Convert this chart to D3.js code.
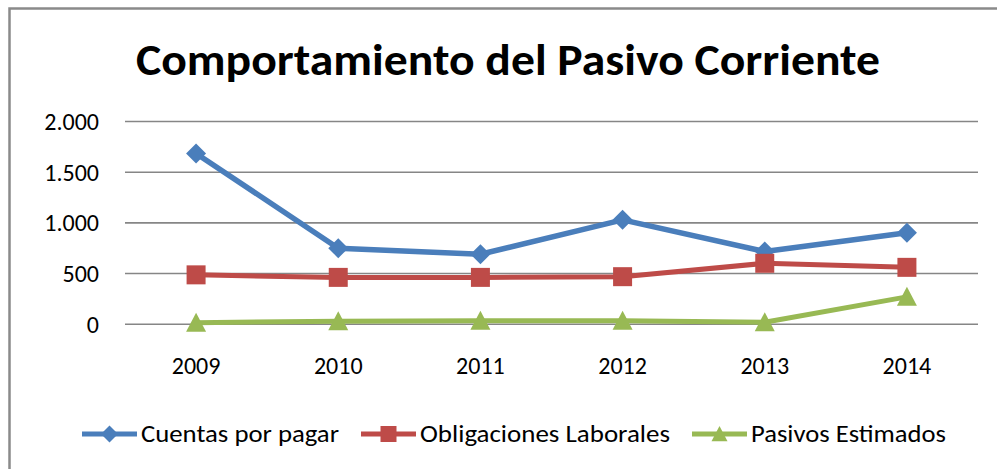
<!DOCTYPE html>
<html>
<head>
<meta charset="utf-8">
<script src="https://cdn.jsdelivr.net/npm/d3@7/dist/d3.min.js"></script>
<style>
  html, body { margin: 0; padding: 0; background: #fff; }
  svg { display: block; }
</style>
</head>
<body>
<svg id="chart" width="997" height="469"></svg>
<script>
const categories = ["2009", "2010", "2011", "2012", "2013", "2014"];
const cuentasPorPagar = [1680, 745, 685, 1025, 712, 897];
const obligacionesLaborales = [482, 457, 457, 464, 596, 556];
const pasivosEstimados = [10, 25, 30, 28, 15, 265];
const yTicks = [0, 500, 1000, 1500, 2000];
const seriesNames = ["Cuentas por pagar", "Obligaciones Laborales", "Pasivos Estimados"];
const seriesColors = ["#4A7EBB", "#BE4B48", "#98B954"];
const titleText = "Comportamiento del Pasivo Corriente";

const series = [
  { name: seriesNames[0], values: cuentasPorPagar, color: seriesColors[0], shape: "diamond" },
  { name: seriesNames[1], values: obligacionesLaborales, color: seriesColors[1], shape: "square" },
  { name: seriesNames[2], values: pasivosEstimados, color: seriesColors[2], shape: "triangle" }
];

const FONT = "Carlito, Lato, 'Open Sans', sans-serif";
const svg = d3.select("#chart");

// chart border
svg.append("rect")
  .attr("x", 9.5).attr("y", 8.5)
  .attr("width", 1000).attr("height", 470)
  .attr("fill", "#fff")
  .attr("stroke", "#8a8a8a").attr("stroke-width", 2.5);

// title
svg.append("text")
  .attr("x", 136).attr("y", 75)
  .attr("font-family", FONT).attr("font-weight", "bold")
  .attr("font-size", 45).attr("fill", "#000")
  .attr("textLength", 744).attr("lengthAdjust", "spacingAndGlyphs")
  .text(titleText);

const plotLeft = 125, plotRight = 978, plotTop = 121, plotBottom = 323.7;

const x = d3.scaleBand().domain(categories).range([plotLeft, plotRight]);
const y = d3.scaleLinear().domain([0, 2000]).range([plotBottom, plotTop]);

const loc = d3.formatLocale({ decimal: ",", thousands: ".", grouping: [3], currency: ["", ""] });
const fmt = loc.format(",");

// gridlines + y labels via axis
const yAxis = d3.axisLeft(y).tickValues(yTicks).tickFormat(fmt)
  .tickSize(-(plotRight - plotLeft)).tickPadding(26);
const gy = svg.append("g").attr("transform", `translate(${plotLeft},0)`).call(yAxis);
gy.select(".domain").remove();
gy.selectAll(".tick line").attr("stroke", "#868686").attr("stroke-width", 1.6);
gy.selectAll(".tick text")
  .attr("font-family", FONT).attr("font-size", 24).attr("fill", "#000")
  .attr("dy", "0.35em");

// x labels via axis
const xAxis = d3.axisBottom(x).tickSize(0).tickPadding(0);
const gx = svg.append("g").attr("transform", `translate(0,${plotBottom})`).call(xAxis);
gx.select(".domain").remove();
gx.selectAll(".tick text")
  .attr("font-family", FONT).attr("font-size", 24).attr("fill", "#000")
  .attr("dy", 0).attr("y", 50);

const cx = d => x(d) + x.bandwidth() / 2;

function markerPath(shape, s) {
  const h = s / 2;
  if (shape === "diamond") return `M0,${-h}L${h},0L0,${h}L${-h},0Z`;
  if (shape === "square") return `M${-h},${-h}H${h}V${h}H${-h}Z`;
  return `M0,${-h}L${h},${h * 0.9}L${-h},${h * 0.9}Z`;
}

const line = d3.line().x((d, i) => cx(categories[i])).y(d => y(d));

series.forEach(s => {
  svg.append("path")
    .attr("d", line(s.values))
    .attr("fill", "none").attr("stroke", s.color)
    .attr("stroke-width", s.shape === "diamond" ? 5.5 : 5)
    .attr("stroke-linejoin", "round");
  svg.append("g").selectAll("path")
    .data(s.values).join("path")
    .attr("transform", (d, i) => `translate(${cx(categories[i])},${y(d)})`)
    .attr("d", markerPath(s.shape, s.shape === "square" ? 19 : 20))
    .attr("fill", s.color);
});

// legend
const legendItems = [
  { lx: 82, tx: 141, tw: 198 },
  { lx: 361, tx: 420, tw: 250 },
  { lx: 692, tx: 751, tw: 195 }
];
const ly = 434;
series.forEach((s, i) => {
  const it = legendItems[i];
  const g = svg.append("g");
  g.append("line")
    .attr("x1", it.lx).attr("x2", it.lx + 55)
    .attr("y1", ly).attr("y2", ly)
    .attr("stroke", s.color).attr("stroke-width", 5);
  g.append("path")
    .attr("transform", `translate(${it.lx + 27.5},${ly})`)
    .attr("d", markerPath(s.shape, s.shape === "diamond" ? 17 : 16))
    .attr("fill", s.color);
  g.append("text")
    .attr("x", it.tx).attr("y", ly + 8)
    .attr("font-family", FONT).attr("font-size", 24).attr("fill", "#000")
    .attr("textLength", it.tw).attr("lengthAdjust", "spacingAndGlyphs")
    .text(s.name);
});
</script>
</body>
</html>
